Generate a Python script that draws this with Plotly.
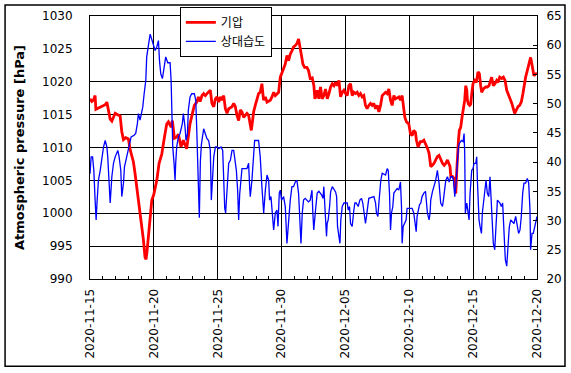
import pandas as pd
import plotly.graph_objects as go

START = "2020-11-15"

# Atmospheric pressure (hPa): day offset from START, value
pressure_days = [
    0.00, 0.14, 0.27, 0.40, 0.46, 0.66, 0.93, 1.19, 1.32, 1.45, 1.58, 1.71, 1.97, 2.23, 2.36,
    2.49, 2.62, 2.80, 3.01, 3.14, 3.27, 3.40, 3.53, 3.74, 3.92, 4.05, 4.18, 4.31, 4.39, 4.47,
    4.58, 4.71, 4.84, 4.99, 5.23, 5.41, 5.62, 5.83, 6.01, 6.14, 6.35, 6.45, 6.61, 6.79, 6.92,
    7.13, 7.31, 7.57, 7.70, 7.83, 8.02, 8.17, 8.36, 8.49, 8.62,
    8.77, 8.90, 9.03, 9.16, 9.29, 9.42, 9.55, 9.69, 9.82, 9.95, 10.08, 10.21, 10.34, 10.47,
    10.60, 10.73, 10.86, 11.12, 11.25, 11.38, 11.51, 11.64, 11.77, 11.90, 12.03, 12.16, 12.29,
    12.42, 12.55, 12.63, 12.73, 12.81, 12.94, 13.07, 13.20, 13.33, 13.46, 13.59, 13.73, 13.86,
    14.12, 14.25, 14.38, 14.51, 14.64, 14.77, 14.90, 15.03, 15.16, 15.29, 15.42, 15.55, 15.68,
    15.81, 15.94, 16.07, 16.20, 16.33, 16.46, 16.54, 16.67, 16.80, 16.98, 17.11, 17.24, 17.40,
    17.53, 17.61, 17.71, 17.79, 17.92, 18.05, 18.18, 18.31, 18.44, 18.58, 18.71, 18.84, 18.97,
    19.10, 19.23, 19.36, 19.49, 19.62, 19.75, 19.88, 20.01, 20.14, 20.27, 20.40, 20.53, 20.66,
    20.79, 20.92, 21.05, 21.18, 21.31, 21.44, 21.57, 21.70, 21.83, 21.96, 22.09, 22.22, 22.36,
    22.49, 22.62, 22.75, 22.88, 23.01, 23.14, 23.27, 23.40, 23.53, 23.66, 23.79, 23.92, 24.18,
    24.31, 24.44, 24.57, 24.65, 24.78, 24.96, 25.09, 25.22, 25.35, 25.48, 25.56, 25.69, 25.87,
    26.00, 26.14, 26.27, 26.42, 26.55, 26.68, 26.81, 26.94, 27.07, 27.20, 27.33, 27.46, 27.60,
    27.73, 27.86, 27.99, 28.12, 28.19, 28.25, 28.38, 28.51, 28.64, 28.72, 28.77, 28.85, 28.92,
    29.03, 29.13, 29.24, 29.34, 29.42, 29.50, 29.55, 29.63, 29.73, 29.81, 29.89, 29.99, 30.12,
    30.25, 30.38, 30.49, 30.59, 30.67, 30.80, 30.98, 31.11, 31.24, 31.37, 31.45, 31.58, 31.71,
    31.84, 31.95, 32.08, 32.24, 32.37, 32.50, 32.63, 32.76, 32.89, 33.03, 33.15, 33.25, 33.38,
    33.51, 33.64, 33.77, 33.90, 33.98, 34.11, 34.24, 34.37, 34.50, 34.58, 34.66, 34.76, 34.89,
    35.00,
]
pressure_hpa = [
    1017.4, 1017.0, 1017.2, 1017.9, 1015.8, 1016.0, 1016.3, 1016.5, 1016.9, 1015.8, 1014.3,
    1014.0, 1015.2, 1014.9, 1014.8, 1012.4, 1011.2, 1011.5, 1011.3, 1009.7, 1008.7, 1007.8,
    1006.0, 1003.0, 1000.5, 998.0, 996.0, 993.3, 993.0, 994.3, 996.5, 999.5, 1002.0, 1002.8,
    1005.0, 1007.6, 1009.0, 1011.6, 1013.6, 1013.9, 1013.1, 1014.1, 1011.4, 1011.6, 1012.0,
    1010.1, 1011.1, 1009.8, 1011.6, 1013.6, 1015.2, 1016.4, 1016.9, 1017.7, 1017.0,
    1017.9, 1018.2, 1017.9, 1018.2, 1018.4, 1018.7, 1016.7, 1016.2, 1017.4, 1017.7, 1016.9,
    1017.7, 1017.2, 1017.9, 1015.9, 1015.2, 1015.9, 1016.2, 1016.7, 1016.2, 1014.9, 1014.1,
    1015.7, 1015.4, 1014.6, 1014.9, 1015.2, 1014.9, 1013.4, 1012.6, 1014.1, 1015.4, 1016.4,
    1017.2, 1018.2, 1018.4, 1019.7, 1017.2, 1017.7, 1016.9, 1017.2, 1017.7, 1018.4, 1017.9,
    1018.2, 1018.4, 1020.7, 1021.5, 1022.0, 1022.7, 1024.0, 1023.2, 1024.2, 1024.7, 1025.3,
    1025.5, 1025.8, 1026.5, 1025.3, 1024.2, 1022.7, 1022.2, 1022.2, 1021.7, 1020.5, 1020.6,
    1019.4, 1017.4, 1017.9, 1018.7, 1017.4, 1019.2, 1017.4, 1017.9, 1018.9, 1017.4, 1018.2,
    1019.2, 1019.7, 1019.4, 1019.9, 1019.4, 1020.2, 1017.7, 1018.4, 1018.7, 1018.2, 1017.9,
    1019.4, 1019.7, 1017.9, 1018.4, 1018.2, 1018.4, 1017.9, 1018.2, 1017.7, 1017.9, 1016.4,
    1015.9, 1016.4, 1016.7, 1016.4, 1016.7, 1015.9, 1016.4, 1015.4, 1016.4, 1017.9, 1018.2,
    1018.4, 1018.2, 1018.9, 1017.2, 1016.4, 1017.9, 1017.4, 1017.7, 1017.2, 1017.9, 1015.9,
    1014.6, 1013.9, 1013.6, 1012.1, 1011.8, 1012.6, 1012.3, 1011.1, 1010.1, 1010.9, 1010.9,
    1011.1, 1010.6, 1009.9, 1009.1, 1007.1, 1007.3, 1007.6, 1008.1, 1008.6, 1008.8, 1008.1,
    1007.6, 1007.3, 1007.6, 1008.1, 1007.6, 1007.1, 1005.6, 1005.6, 1005.3, 1003.0, 1006.6,
    1009.1, 1011.1, 1012.6, 1013.1, 1014.6, 1015.7, 1017.2, 1019.4, 1018.7, 1017.2, 1016.6,
    1016.4, 1016.6, 1018.2, 1019.7, 1020.2, 1019.9, 1021.5, 1021.2, 1019.4, 1018.4, 1018.9,
    1019.2, 1019.2, 1019.4, 1020.2, 1020.7, 1019.4, 1019.7, 1020.2, 1019.9, 1020.7, 1020.5,
    1020.7, 1020.2, 1018.7, 1017.9, 1017.4, 1016.7, 1015.7, 1015.2, 1015.7, 1016.2, 1016.4,
    1016.9, 1018.2, 1019.4, 1020.7, 1021.7, 1022.7, 1023.7, 1022.9, 1022.2, 1020.9, 1021.2,
    1021.3,
]

# Relative humidity (%): day offset from START, value
humidity_days = [
    0.00, 0.09, 0.20, 0.30, 0.40, 0.48, 0.56, 0.66, 0.80, 0.93, 1.06, 1.19, 1.32, 1.39, 1.50,
    1.58, 1.71, 1.84, 1.97, 2.18, 2.28, 2.41, 2.49, 2.62, 2.70, 2.80, 2.96, 3.06, 3.22, 3.45,
    3.58, 3.71, 3.79, 3.92, 4.05, 4.13, 4.24, 4.37, 4.44, 4.52, 4.63, 4.71, 4.84, 4.97, 5.10,
    5.23, 5.36, 5.44, 5.54, 5.67, 5.83, 5.93, 6.09, 6.27, 6.35, 6.40, 6.48, 6.58, 6.66, 6.71,
    6.79, 6.92, 7.05, 7.23, 7.31, 7.44, 7.52, 7.63, 7.70, 7.83, 7.96, 8.17, 8.28, 8.36, 8.43,
    8.56, 8.64, 8.72, 8.90, 9.03, 9.16, 9.29, 9.42, 9.50, 9.61, 9.69, 9.82, 9.95, 10.08, 10.26,
    10.39, 10.47, 10.55, 10.62, 10.73, 10.86, 10.99, 11.12, 11.25, 11.38, 11.46, 11.56, 11.64,
    11.72, 11.82, 11.90, 12.29, 12.42, 12.50, 12.55, 12.68, 12.81, 12.89, 13.20, 13.33, 13.46,
    13.60, 13.73, 13.86, 13.99, 14.06, 14.17, 14.25, 14.38, 14.51, 14.64, 14.72, 14.82, 14.90,
    15.00, 15.16, 15.29, 15.42, 15.50, 15.58, 15.68, 15.81, 15.94, 16.07, 16.20, 16.33, 16.41,
    16.52, 16.62, 16.72, 16.85, 17.11, 17.24, 17.38, 17.45, 17.52, 17.66, 17.79, 17.92, 18.13,
    18.24, 18.31, 18.39, 18.44, 18.52, 18.57, 18.65, 18.76, 18.84, 18.97, 19.23, 19.31, 19.38,
    19.49, 19.57, 19.64, 19.75, 19.88, 20.14, 20.22, 20.32, 20.40, 20.53, 20.66, 20.74, 20.84,
    21.00, 21.13, 21.26, 21.36, 21.47, 21.57, 21.65, 21.76, 21.83, 22.23, 22.36, 22.43, 22.54,
    22.62, 22.69, 22.77, 22.88, 23.14, 23.27, 23.35, 23.45, 23.53, 23.61, 23.71, 23.79, 23.92,
    24.05, 24.18, 24.31, 24.39, 24.44, 24.52, 24.65, 24.75, 24.83, 25.22, 25.35, 25.43, 25.54,
    25.61, 25.69, 25.80, 25.90, 26.00, 26.14, 26.27, 26.42, 26.55, 26.63, 26.68, 26.81, 26.94,
    27.07, 27.20, 27.33, 27.46, 27.60, 27.67, 27.78, 27.86, 27.99, 28.12, 28.25, 28.38, 28.46,
    28.56, 28.64, 28.72, 28.77, 28.85, 28.92, 29.08, 29.21, 29.29, 29.34, 29.39, 29.50, 29.60,
    29.68, 29.76, 29.89, 29.99, 30.07, 30.20, 30.28, 30.33, 30.46, 30.54, 30.65, 30.72, 30.80,
    30.90, 31.01, 31.11, 31.22, 31.32, 31.43, 31.51, 31.58, 31.69, 31.79, 31.90, 32.10, 32.21,
    32.31, 32.42, 32.52, 32.63, 32.73, 32.83, 32.94, 33.20, 33.33, 33.46, 33.56, 33.67, 33.77,
    33.88, 33.98, 34.11, 34.24, 34.35, 34.45, 34.50, 34.61, 34.71, 34.82, 34.92, 35.00,
]
humidity_pct = [
    38.0, 40.9, 40.9, 38.6, 33.5, 30.1, 33.5, 36.9, 38.6, 40.9, 42.6, 43.7, 42.6, 40.9, 35.8,
    33.0, 37.5, 39.8, 40.9, 42.0, 40.9, 38.6, 34.1, 36.4, 39.2, 40.3, 41.5, 43.2, 44.3, 44.6,
    44.9, 46.6, 48.3, 47.2, 48.3, 49.4, 51.7, 54.0, 58.0, 59.7, 60.8, 61.9, 60.8, 60.0, 59.1,
    59.7, 60.8, 57.4, 55.1, 54.3, 56.5, 58.0, 57.0, 57.0, 54.0, 48.3, 42.6, 39.8, 36.9, 39.8,
    42.6, 44.3, 44.9, 46.6, 48.3, 46.0, 43.7, 44.9, 48.9, 51.1, 51.7, 51.7, 50.6, 45.5, 39.2,
    30.5, 40.0, 43.0, 45.7, 44.9, 44.0, 43.7, 42.0, 33.5, 38.1, 40.9, 42.6, 42.6, 42.3, 42.6,
    42.0, 35.8, 32.1, 31.3, 35.2, 39.8, 40.3, 42.0, 42.0, 40.3, 38.6, 35.2, 30.1,
    34.5, 38.1, 38.9, 38.9, 39.8, 35.8, 34.1, 36.9, 42.6, 43.7, 43.7, 40.9, 35.8,
    31.3, 35.2, 37.8, 36.9, 33.5, 34.1, 32.4, 28.4, 31.3, 31.8, 29.0, 34.7, 35.2,
    33.5, 34.1, 32.4, 26.1, 28.4, 31.3, 33.5, 35.8, 35.8, 36.6, 36.9, 34.7, 31.3,
    26.1, 31.3, 33.5, 33.8, 33.2, 33.5, 35.2, 31.3, 28.4, 31.8, 34.7, 35.0, 34.4,
    33.8, 35.8, 32.4, 29.5, 27.3, 29.5, 30.1, 32.4, 34.9, 35.8, 34.9, 34.1, 29.0,
    27.3, 26.1, 30.1, 32.4, 33.0, 33.0, 31.8, 32.4, 29.5, 29.0, 31.8, 33.0, 33.0,
    32.4, 33.5, 33.8, 33.0, 31.3, 29.5, 30.7, 33.0, 33.8, 34.1, 33.0, 31.3, 30.7,
    33.0, 34.7, 36.9, 38.1, 37.8, 38.9, 38.6, 34.7, 28.4, 31.3, 32.4, 34.7, 35.2,
    35.5, 35.2, 36.6, 32.4, 26.1, 29.0, 29.5, 30.1, 32.1, 32.1, 31.3, 30.1, 28.1,
    30.7, 31.8, 32.7, 33.0, 34.1, 34.7, 35.0, 31.3, 30.1, 31.3, 33.5, 34.9, 35.8,
    36.9, 38.6, 36.4, 33.0, 32.4, 33.5, 35.8, 36.9, 37.5, 36.6, 37.5, 37.5, 36.9,
    34.1, 35.8, 39.2, 41.5, 42.6, 43.2, 43.7, 43.5, 44.9, 41.5, 31.3, 33.0, 31.3,
    30.1, 34.7, 38.6, 38.9, 39.8, 39.8, 40.9, 37.0, 30.1, 29.0, 27.8, 31.3, 33.0,
    34.7, 36.9, 34.7, 34.1, 37.5, 32.4, 27.8, 26.1, 25.0, 30.1, 33.5, 33.0, 32.4,
    33.0, 27.8, 23.3, 22.2, 26.6, 28.9, 30.1, 29.5, 30.7, 29.0, 27.8, 28.4, 30.7,
    34.7, 36.4, 36.4, 37.2, 36.4, 31.8, 25.0, 27.8, 27.8, 29.0, 30.1, 30.7,
]

series_names = ["기압", "상대습도"]
y_title = "Atmospheric pressure [hPa]"

start = pd.Timestamp(START)
p_time = start + pd.to_timedelta(pressure_days, unit="D")
h_time = start + pd.to_timedelta(humidity_days, unit="D")

FONT = "DejaVu Sans"
fig = go.Figure()
fig.add_trace(go.Scatter(x=p_time, y=pressure_hpa, name=series_names[0], mode="lines",
                         line=dict(color="#ff0000", width=2.8), yaxis="y"))
fig.add_trace(go.Scatter(x=h_time, y=humidity_pct, name=series_names[1], mode="lines",
                         line=dict(color="#0000ff", width=1.3), yaxis="y2"))

fig.update_layout(
    width=571, height=373,
    margin=dict(l=90, r=34, t=16, b=94, autoexpand=False),
    paper_bgcolor="white", plot_bgcolor="white",
    font=dict(family=FONT, size=12, color="black"),
    showlegend=True,
    legend=dict(x=0.201, y=1.035, xanchor="left", yanchor="top",
                bgcolor="white", bordercolor="black", borderwidth=1,
                font=dict(family="Noto Sans CJK KR", size=12, color="black"),
                tracegroupgap=0, itemwidth=30),
    xaxis=dict(type="date", range=["2020-11-15", "2020-12-20"],
               tick0="2020-11-15", dtick=5 * 86400000, tickformat="%Y-%m-%d",
               tickangle=-90, showgrid=True, gridcolor="black", gridwidth=1,
               showline=True, linecolor="black", linewidth=1, mirror=True,
               ticks="", ticklabelstandoff=4, zeroline=False,
               minor=dict(dtick=86400000, tick0="2020-11-15", ticks="inside",
                          ticklen=3, tickcolor="black", showgrid=False)),
    yaxis=dict(range=[990, 1030], dtick=5, showgrid=True, gridcolor="black", gridwidth=1,
               showline=True, linecolor="black", linewidth=1, mirror=True,
               ticks="", ticklabelstandoff=14, zeroline=False,
               title=dict(text=y_title, font=dict(family=FONT, size=13, color="black", weight="bold"),
                          standoff=14)),
    yaxis2=dict(range=[20, 65], dtick=5, overlaying="y", side="right", showgrid=False,
                showline=True, linecolor="black", linewidth=1,
                ticks="inside", ticklen=4, tickcolor="black", ticklabelstandoff=6,
                zeroline=False),
    shapes=[dict(type="rect", xref="paper", yref="paper",
                 x0=-0.190, x1=1.0626, y0=-0.332, y1=1.0417,
                 line=dict(color="black", width=1.5), layer="above")],
)

fig.write_html("out.html", config={"displayModeBar": False},
               post_script="document.body.style.margin='0';")
